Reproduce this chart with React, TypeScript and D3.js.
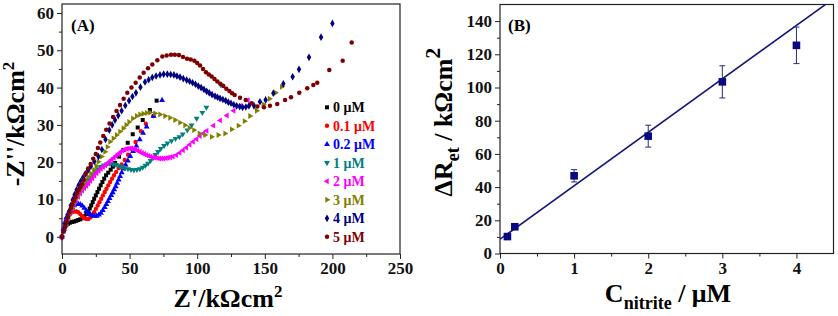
import * as d3 from 'd3'
import { useEffect, useRef } from 'react'

// panel A: Nyquist plots, one array of [Z', -Z''] per nitrite level
const legendLabels = ['0 μM', '0.1 μM', '0.2 μM', '1 μM', '2 μM', '3 μM', '4 μM', '5 μM']
const seriesColors = ['#000000', '#ff0000', '#0000ff', '#008080', '#ff00ff', '#808000', '#000080', '#800000']

const s0uM = [[0,0],[1,1.6],[2,2.5],[3.2,3.1],[4.5,3.5],[6,3.8],[7.5,4],[9,4.1],[10.5,4.3],[12,4.5],[13.5,4.7],[15,5],[16.5,5.5],[18,6.1],[19.3,6.8],[20.5,7.6],[21.6,8.4],[22.7,9.3],[23.8,10.2],[25,11.1],[26.2,12],[27.4,12.9],[28.6,13.8],[29.9,14.7],[31.2,15.6],[32.6,16.5],[34.2,17.2],[36,18],[37.6,18.8],[39.3,19.8],[42.2,21.5],[45.4,23.3],[48.6,25.2],[52.3,27.5],[56,29.3],[59.7,31.3],[65,34],[70,36.5]]
const s01uM = [[0,0],[1,2],[2,3.5],[3.2,4.7],[4.6,5.6],[6,6.2],[7.5,6.6],[9,6.8],[10.5,6.8],[12,6.6],[13.5,6.1],[15,5.5],[16.5,5],[18,4.8],[19.5,4.8],[21,5.2],[22.5,5.8],[23.8,6.6],[25.1,7.5],[26.4,8.4],[27.7,9.3],[29,10.2],[30.3,11.1],[31.6,12],[32.9,12.9],[34.2,13.8],[35.6,14.7],[37,15.6],[38.5,16.5],[40.1,17.4],[42,18.4],[44.1,19.4],[46.4,20.6],[48.9,22],[51.6,23.6],[54.4,25.4],[58.4,28.3],[62,30.3],[67.5,32.4]]
const s02uM = [[0,0],[1,2.2],[2,3.8],[3.2,5.2],[4.5,6.3],[6,7.2],[7.5,7.9],[9,8.4],[10.5,8.7],[12,8.8],[13.5,8.7],[15,8.3],[16.5,7.7],[18,7],[19.5,6.4],[21,6],[22.5,5.7],[24,5.6],[25.7,5.6],[27.3,5.9],[28.8,6.4],[30.2,7.1],[31.6,7.9],[32.8,8.7],[34,9.5],[35.2,10.3],[36.4,11.1],[37.5,11.9],[38.6,12.7],[39.7,13.5],[40.8,14.4],[41.9,15.3],[43,16.2],[44.2,17.2],[45.5,18.2],[47,19.3],[48.7,20.4],[50.5,21.6],[52.6,22.9],[55,24.4],[57.5,26.1],[60,27.8],[62.6,29.5],[67.8,32.4],[74,36.6]]
const s1uM = [[0,0],[1.5,1.8],[3,3.5],[4.5,5.1],[6,6.6],[7.5,8],[9,9.3],[10.5,10.5],[12,11.6],[13.6,12.6],[15.2,13.5],[16.9,14.4],[18.6,15.2],[20.4,16],[22.3,16.8],[24.3,17.5],[26.4,18.2],[28.6,18.8],[30.9,19.2],[33.2,19.5],[35.5,19.6],[37.8,19.5],[40,19.3],[42.2,19],[44.4,18.7],[46.6,18.4],[48.8,18.2],[51,18],[53.2,17.9],[55.4,18],[57.6,18.2],[59.7,18.6],[61.7,19.1],[63.6,19.7],[65.5,20.4],[67.3,21.2],[69.1,22],[71,22.8],[73,23.6],[75.5,24.4],[78,25.1],[81,25.7],[84,26.3],[86.8,26.8],[89.3,27.5],[92.7,28.6],[95.8,29.9],[99.6,31.7],[103.8,33.3],[106.8,34.7],[117.4,40.7]]
const s2uM = [[0,0],[1.5,1.6],[3,3.2],[4.5,4.8],[6,6.3],[7.5,7.6],[9,8.8],[10.5,9.8],[12,10.7],[13.5,11.6],[15,12.4],[16.5,13.1],[18,13.7],[19.5,14.3],[21,15],[22.5,15.7],[24,16.4],[25.6,17.1],[27.2,17.7],[28.8,18.2],[30.4,18.7],[32,19.2],[33.6,19.7],[35.2,20.2],[36.8,20.7],[38.4,21.2],[40,21.7],[41.6,22.2],[43.2,22.7],[44.8,23.1],[46.4,23.4],[48,23.6],[49.6,23.7],[51.2,23.7],[52.8,23.6],[54.4,23.4],[56,23.1],[57.6,22.8],[59.2,22.5],[60.8,22.2],[62.4,21.9],[64,21.7],[65.6,21.5],[67.2,21.3],[68.8,21.2],[70.4,21.1],[72,21],[73.6,21],[75.2,21],[76.8,21.1],[78.4,21.2],[80,21.3],[82,21.5],[84.5,21.9],[87,22.5],[89.5,23.2],[92,23.9],[94.5,24.7],[97,25.5],[99.5,26.2],[102,27],[104.5,27.7],[107,28.4],[112,29.8],[117,31.2],[122,32.5],[127,33.8],[132,35.1],[137.5,36.6]]
const s3uM = [[0,0],[1.5,1.6],[3,3.2],[4.5,4.8],[6,6.3],[7.5,7.7],[9,9],[10.5,10.3],[12,11.5],[13.7,12.7],[15.4,13.8],[17.2,14.9],[19.2,16],[21.4,17],[23.7,17.9],[25.3,19],[26.9,20.1],[29.3,21.5],[31.8,22.8],[33.6,24.1],[35.5,25.5],[38,26.4],[40.4,27.3],[42.9,28.2],[45.4,29.1],[47.5,30],[49.6,30.8],[52.4,31.7],[55.2,32.4],[57.7,32.8],[60.1,33],[62.6,33.2],[65.1,33.3],[68.8,33.1],[72.5,32.8],[76.2,32.4],[79.9,31.9],[83.6,31.3],[87.3,30.6],[91,29.9],[94.2,29.2],[97.6,28.6],[101.6,27.7],[105.8,27.3],[110.7,26.8],[115.6,27.3],[120.6,27.7],[125.5,28.8],[130.5,29.8],[135,31],[139,32.4],[144,33.8],[148.9,35.5],[153.5,37],[158,38.6],[162.5,40.2]]
const s4uM = [[0,0],[1.3,1.7],[2.6,3.4],[3.9,5.1],[5.2,6.8],[6.5,8.4],[7.9,9.9],[9.3,11.3],[10.8,12.6],[12.3,13.8],[13.9,14.9],[15.6,15.9],[17.4,16.9],[19.3,17.9],[21.3,18.9],[23.9,20.2],[26.9,21.5],[29.5,23.4],[32.2,26.1],[35,28.6],[37.1,30],[39.2,31.3],[41.6,32.5],[44.1,33.8],[46.8,35.2],[49.6,36.5],[52.1,37.6],[54.7,38.6],[58,40.1],[61.4,41.5],[64.1,42.1],[66.8,42.7],[69.6,43.1],[72.5,43.4],[75.2,43.6],[77.9,43.6],[80.4,43.5],[82.8,43.4],[85,43.1],[87.3,42.8],[89.7,42.4],[92.2,42],[94.4,41.7],[96.6,41.3],[98.7,40.9],[100.8,40.4],[102.9,40],[105,39.5],[107,39],[108.9,38.6],[111,38.1],[113.2,37.7],[115,37.4],[116.9,37.1],[119,36.8],[121.1,36.5],[123,36.1],[125,35.8],[127.1,35.4],[129.2,35.1],[131.4,34.9],[133.6,34.7],[136,34.8],[138.3,35.1],[142,35.1],[146.4,36.2],[150.6,36.7],[156.3,38.5],[163.7,41],[170.6,42.9],[175.3,44.9],[182.7,48.1],[191.6,53.5],[200,57.2]]
const s5uM = [[0,0],[1.1,1.4],[2.2,2.7],[3.3,4],[4.4,5.3],[5.5,6.5],[6.6,7.7],[7.7,8.7],[8.8,9.7],[9.9,10.6],[11.1,11.6],[12.3,12.5],[13.5,13.3],[14.8,14.1],[16.1,15.3],[17.5,17],[19.3,18.3],[21.2,19.5],[23.1,20.9],[25,22.2],[26.6,23.8],[28.3,25.3],[30.5,27],[32.7,28.7],[35.2,30.4],[37.8,32.1],[40.3,33.7],[42.9,35.3],[45.6,37],[48.3,38.6],[51.4,40],[54.5,41.3],[57.5,42.7],[60.4,44],[63.6,45.2],[66.8,46.2],[70.5,47.3],[74.2,48.3],[77.4,48.6],[80.6,48.8],[83.5,48.8],[86.5,48.7],[89.5,48.2],[92.5,47.7],[95.2,47.5],[97.9,47.2],[100,46.6],[102.1,45.9],[104.3,45],[106.5,44.1],[108.6,43.5],[110.7,43],[112.8,42.3],[114.9,41.6],[117.1,41],[119.3,40.4],[121.5,39.7],[123.8,39.1],[125.8,38.5],[127.7,38],[131.7,37.3],[135.9,36.7],[140.3,35.8],[144.5,34.9],[149.4,34.7],[153.8,35.1],[159.2,35.6],[165,36.7],[169.4,37.4],[175.5,38.6],[181.4,39.8],[185.9,40.7],[188.8,41.3],[197.7,44.7],[207.6,47.2],[214.3,52.1]]
const nyquistSeries = [s0uM, s01uM, s02uM, s1uM, s2uM, s3uM, s4uM, s5uM]

const zRealTicks = [0, 50, 100, 150, 200, 250]
const zImagTicks = [0, 10, 20, 30, 40, 50, 60]

// panel B: calibration
const nitriteConc = [0.1, 0.2, 1, 2, 3, 4]
const deltaRet = [10.2, 16.1, 46.8, 70.7, 103.4, 125.4]
const deltaRetErr = [1.2, 1.2, 3.7, 6.6, 9.7, 11]
const fitIntercept = 8.6
const fitSlope = 32.2
const concTicks = [0, 1, 2, 3, 4]
const retTicks = [0, 20, 40, 60, 80, 100, 120, 140]

const FONT = "'Liberation Serif', 'Times New Roman', serif"

const symbolFor = (i) => {
  // [shape, rotation, size]
  const shapes = [
    [d3.symbolSquare, 0, 16],
    [d3.symbolCircle, 0, 15],
    [d3.symbolTriangle, 0, 15],
    [d3.symbolTriangle, 180, 15],
    [d3.symbolTriangle, -90, 15],
    [d3.symbolTriangle, 90, 15],
    [d3.symbolDiamond, 0, 17],
    [d3.symbolCircle, 0, 16],
  ]
  return shapes[i]
}

const App = () => {
  const ref = useRef(null)

  useEffect(() => {
    document.body.style.margin = '0'
    const svg = d3.select(ref.current)
    svg.selectAll('*').remove()
    svg.attr('width', 838).attr('height', 316).style('display', 'block')
      .style('font-family', FONT).style('font-weight', 'bold')

    // ---------- Panel A ----------
    const a = { left: 62, right: 400, top: 4, bottom: 254 }
    const xA = d3.scaleLinear().domain([0, 250]).range([a.left, a.right])
    const yA = d3.scaleLinear().domain([-4.6, 62.4]).range([a.bottom, a.top])

    const gA = svg.append('g')

    // minor ticks
    gA.append('g')
      .attr('transform', `translate(0, ${a.bottom})`)
      .call(d3.axisBottom(xA).tickValues(d3.range(25, 250, 50)).tickSize(3).tickFormat(() => ''))
    gA.append('g')
      .attr('transform', `translate(${a.left}, 0)`)
      .call(d3.axisLeft(yA).tickValues(d3.range(5, 62, 10)).tickSize(3).tickFormat(() => ''))
    // major ticks
    gA.append('g')
      .attr('transform', `translate(0, ${a.bottom})`)
      .call(d3.axisBottom(xA).tickValues(zRealTicks).tickSize(5).tickPadding(3).tickFormat(d3.format('d')))
    gA.append('g')
      .attr('transform', `translate(${a.left}, 0)`)
      .call(d3.axisLeft(yA).tickValues(zImagTicks).tickSize(5).tickPadding(3).tickFormat(d3.format('d')))

    gA.selectAll('.domain').remove()
    gA.selectAll('.tick line').attr('stroke', '#222').attr('stroke-width', 1)
    gA.selectAll('.tick text')
      .style('font-family', FONT).style('font-weight', 'bold').style('font-size', '17px').attr('fill', '#111')

    gA.append('rect')
      .attr('x', a.left).attr('y', a.top)
      .attr('width', a.right - a.left).attr('height', a.bottom - a.top)
      .attr('fill', 'none').attr('stroke', '#222').attr('stroke-width', 1.2)

    // scatter points
    nyquistSeries.forEach((series, i) => {
      const [shape, rot, size] = symbolFor(i)
      const sym = d3.symbol().type(shape).size(size)
      gA.append('g')
        .selectAll('path')
        .data(series)
        .join('path')
        .attr('d', sym)
        .attr('fill', seriesColors[i])
        .attr('transform', (d) => `translate(${xA(d[0])}, ${yA(d[1])}) rotate(${rot})`)
    })

    // legend
    const leg = gA.append('g')
    legendLabels.forEach((lab, i) => {
      const [shape, rot, size] = symbolFor(i)
      const yy = 107.3 + i * 18.5
      leg.append('path')
        .attr('d', d3.symbol().type(shape).size(size)())
        .attr('fill', seriesColors[i])
        .attr('transform', `translate(327, ${yy}) rotate(${rot})`)
      leg.append('text')
        .attr('x', 333).attr('y', yy + 5)
        .attr('fill', seriesColors[i])
        .style('font-size', '14px')
        .text(lab)
    })

    gA.append('text')
      .attr('x', 71).attr('y', 31)
      .style('font-size', '17px')
      .text('(A)')

    // x title
    const xtA = gA.append('text')
      .attr('x', 228).attr('y', 307)
      .attr('text-anchor', 'middle')
      .style('font-size', '26px')
    xtA.append('tspan').text("Z'/kΩcm")
    xtA.append('tspan').attr('dy', -10).style('font-size', '17px').text('2')

    // y title
    const ytA = gA.append('text')
      .attr('transform', 'translate(24, 124) rotate(-90)')
      .attr('text-anchor', 'middle')
      .style('font-size', '26px')
    ytA.append('tspan').text("-Z''/kΩcm")
    ytA.append('tspan').attr('dy', -10).style('font-size', '17px').text('2')

    // ---------- Panel B ----------
    const b = { left: 500, right: 833.5, top: 4.5, bottom: 253.5 }
    const xB = d3.scaleLinear().domain([0, 4.5]).range([b.left, b.right])
    const yB = d3.scaleLinear().domain([0, 150]).range([b.bottom, b.top])

    const gB = svg.append('g')

    gB.append('g')
      .attr('transform', `translate(0, ${b.bottom})`)
      .call(d3.axisBottom(xB).tickValues([0.5, 1.5, 2.5, 3.5]).tickSize(3).tickFormat(() => ''))
    gB.append('g')
      .attr('transform', `translate(${b.left}, 0)`)
      .call(d3.axisLeft(yB).tickValues(d3.range(10, 150, 20)).tickSize(3).tickFormat(() => ''))
    gB.append('g')
      .attr('transform', `translate(0, ${b.bottom})`)
      .call(d3.axisBottom(xB).tickValues(concTicks).tickSize(5).tickPadding(3).tickFormat(d3.format('d')))
    gB.append('g')
      .attr('transform', `translate(${b.left}, 0)`)
      .call(d3.axisLeft(yB).tickValues(retTicks).tickSize(5).tickPadding(3).tickFormat(d3.format('d')))

    gB.selectAll('.domain').remove()
    gB.selectAll('.tick line').attr('stroke', '#222').attr('stroke-width', 1)
    gB.selectAll('.tick text')
      .style('font-family', FONT).style('font-weight', 'bold').style('font-size', '17px').attr('fill', '#111')

    gB.append('rect')
      .attr('x', b.left).attr('y', b.top)
      .attr('width', b.right - b.left).attr('height', b.bottom - b.top)
      .attr('fill', 'none').attr('stroke', '#222').attr('stroke-width', 1.2)

    svg.append('defs').append('clipPath').attr('id', 'clipB')
      .append('rect')
      .attr('x', b.left).attr('y', b.top)
      .attr('width', b.right - b.left).attr('height', b.bottom - b.top)

    // fit line
    const fitLine = d3.line().x((d) => xB(d)).y((d) => yB(fitIntercept + fitSlope * d))
    gB.append('path')
      .attr('clip-path', 'url(#clipB)')
      .attr('d', fitLine([0, 4.5]))
      .attr('fill', 'none').attr('stroke', '#14147a').attr('stroke-width', 1.6)

    // error bars
    const eb = gB.append('g').attr('stroke', '#2a2a80').attr('stroke-width', 1)
    nitriteConc.forEach((c, i) => {
      const cx = xB(c)
      const y1 = yB(deltaRet[i] - deltaRetErr[i])
      const y2 = yB(deltaRet[i] + deltaRetErr[i])
      eb.append('line').attr('x1', cx).attr('x2', cx).attr('y1', y1).attr('y2', y2)
      eb.append('line').attr('x1', cx - 3).attr('x2', cx + 3).attr('y1', y1).attr('y2', y1)
      eb.append('line').attr('x1', cx - 3).attr('x2', cx + 3).attr('y1', y2).attr('y2', y2)
    })

    gB.append('g')
      .selectAll('rect')
      .data(nitriteConc)
      .join('rect')
      .attr('x', (d) => xB(d) - 3.8)
      .attr('y', (d, i) => yB(deltaRet[i]) - 3.8)
      .attr('width', 7.6).attr('height', 7.6)
      .attr('fill', '#0a0a80')

    gB.append('text')
      .attr('x', 508).attr('y', 31)
      .style('font-size', '17px')
      .text('(B)')

    const xtB = gB.append('text')
      .attr('x', 668).attr('y', 302)
      .attr('text-anchor', 'middle')
      .style('font-size', '26px')
    xtB.append('tspan').text('C')
    xtB.append('tspan').attr('dy', 7).style('font-size', '18px').text('nitrite')
    xtB.append('tspan').attr('dy', -7).text(' / μM')

    const ytB = gB.append('text')
      .attr('transform', 'translate(452, 122) rotate(-90)')
      .attr('text-anchor', 'middle')
      .style('font-size', '26px')
    ytB.append('tspan').text('ΔR')
    ytB.append('tspan').attr('dy', 7).style('font-size', '18px').text('et')
    ytB.append('tspan').attr('dy', -7).text(' / kΩcm')
    ytB.append('tspan').attr('dy', -12).style('font-size', '22px').text('2')
  }, [])

  return (
    <div>
      <svg ref={ref}></svg>
    </div>
  )
}

export default App
